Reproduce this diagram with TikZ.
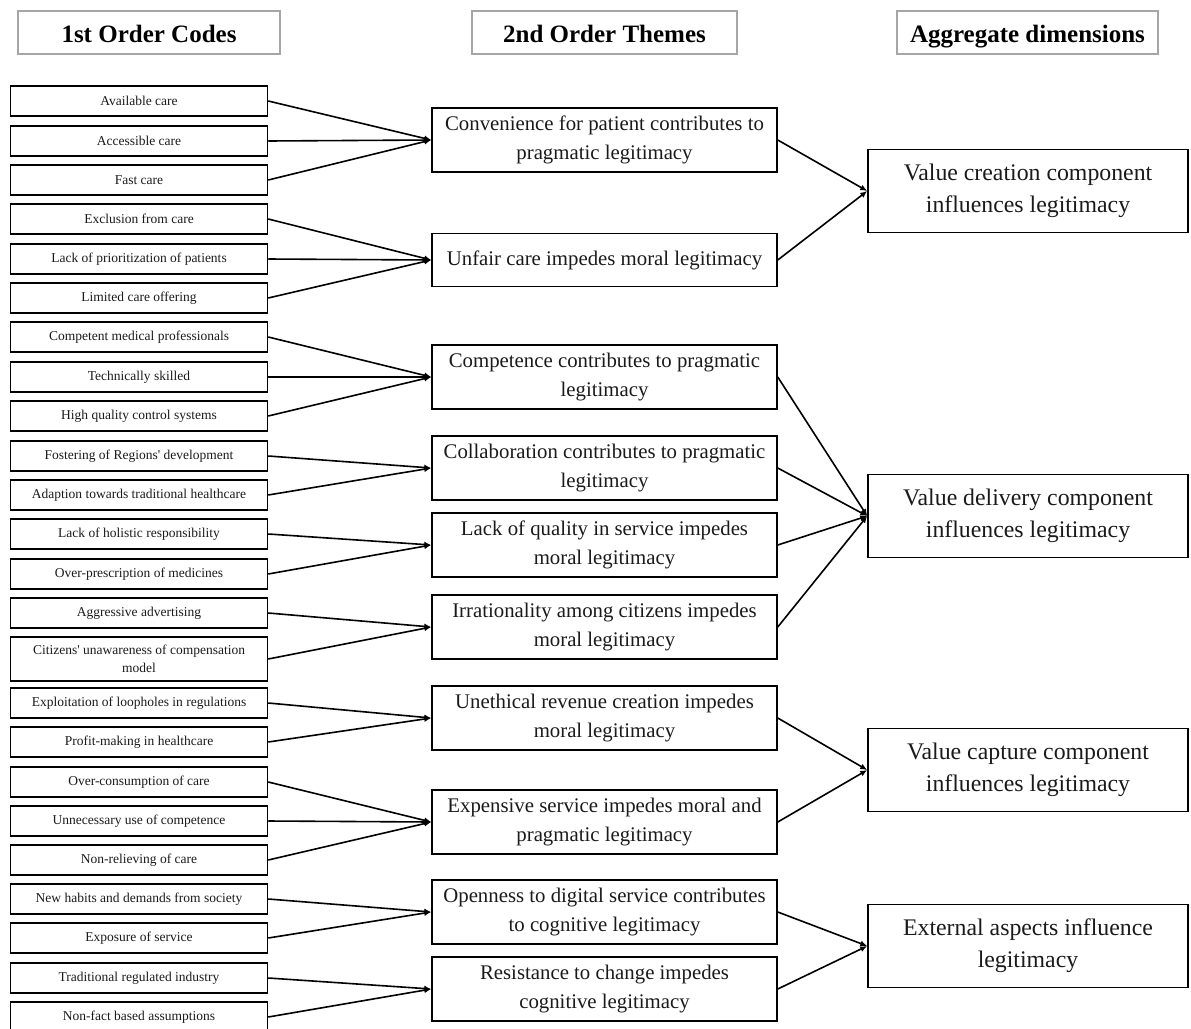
\documentclass[tikz,border=0pt]{standalone}
\usepackage{fontspec}
\setmainfont{Liberation Serif}
\usetikzlibrary{arrows.meta, positioning}
\definecolor{gristitulo}{HTML}{A6A6A6}
\definecolor{texto}{HTML}{1A1A1A}
\tikzset{
  titulo/.style={rectangle, draw=gristitulo, line width=1.2pt,
    minimum height=43pt, text height=20pt, text depth=1pt,
    font=\fontsize{25}{30}\selectfont\bfseries},
  codigo/.style={rectangle, draw, line width=1.5pt, minimum width=257pt,
    minimum height=30pt, inner sep=0pt, align=center,
    font=\fontsize{13.5}{18}\selectfont, text=texto},
  tema/.style={rectangle, draw, line width=1.5pt, minimum width=345pt,
    minimum height=64pt, inner sep=0pt, align=center,
    font=\fontsize{20.8}{29}\selectfont, text=texto},
  dimension/.style={rectangle, draw, line width=1.5pt, minimum width=320pt,
    minimum height=83pt, inner sep=0pt, align=center,
    font=\fontsize{23.8}{32}\selectfont, text=texto},
  flecha/.style={-{Latex[length=7pt,width=6pt]}, line width=1.6pt}
}

\begin{document}
\begin{tikzpicture}[x=1pt, y=-1pt]
  \useasboundingbox (0,0) rectangle (1191,1028);

  % --- Encabezados ---
  \node[titulo, minimum width=262pt] (h1) at (149,32.5) {1st Order Codes};
  \node[titulo, minimum width=265pt] (h2) at (604.5,32.5) {2nd Order Themes};
  \node[titulo, minimum width=261pt] (h3) at (1027.5,32.5) {Aggregate dimensions};

  % --- Codigos de primer orden ---
  \foreach \i/\y/\txt in {1/101/Available care, 2/141/Accessible care, 3/180/Fast care,
      4/219/Exclusion from care, 5/259/Lack of prioritization of patients,
      6/298/Limited care offering, 7/337/Competent medical professionals,
      8/377/Technically skilled, 9/416/High quality control systems,
      10/456/Fostering of Regions\textquotesingle{} development,
      11/495/Adaption towards traditional healthcare,
      12/534/Lack of holistic responsibility, 13/574/Over-prescription of medicines,
      14/613/Aggressive advertising, 16/703/Exploitation of loopholes in regulations,
      17/742/Profit-making in healthcare, 18/782/Over-consumption of care,
      19/821/Unnecessary use of competence, 20/860/Non-relieving of care,
      21/899/New habits and demands from society, 22/938/Exposure of service,
      23/978/Traditional regulated industry, 24/1017/Non-fact based assumptions} {
    \node[codigo] (c\i) at (139,\y) {\txt};
  }
  \node[codigo, minimum height=44pt] (c15) at (139,659)
    {Citizens\textquotesingle{} unawareness of compensation\\model};

  % --- Temas de segundo orden ---
  \foreach \i/\y/\txt in {1/140/Convenience for patient contributes to\\pragmatic legitimacy,
      3/377/Competence contributes to pragmatic\\legitimacy,
      4/468/Collaboration contributes to pragmatic\\legitimacy,
      5/545/Lack of quality in service impedes\\moral legitimacy,
      6/627/Irrationality among citizens impedes\\moral legitimacy,
      7/718/Unethical revenue creation impedes\\moral legitimacy,
      8/822/Expensive service impedes moral and\\pragmatic legitimacy,
      9/912/Openness to digital service contributes\\to cognitive legitimacy,
      10/989/Resistance to change impedes\\cognitive legitimacy} {
    \node[tema] (t\i) at (604.5,\y) {\txt};
  }
  \node[tema, minimum height=53pt] (t2) at (604.5,260) {Unfair care impedes moral legitimacy};

  % --- Dimensiones agregadas ---
  \foreach \i/\y/\txt in {1/191/Value creation component\\influences legitimacy,
      2/516/Value delivery component\\influences legitimacy,
      3/770/Value capture component\\influences legitimacy,
      4/946/External aspects influence\\legitimacy} {
    \node[dimension] (d\i) at (1028,\y) {\txt};
  }

  % --- Flechas ---
  \foreach \a/\b in {1/1, 2/1, 3/1, 4/2, 5/2, 6/2, 7/3, 8/3, 9/3, 10/4, 11/4,
      12/5, 13/5, 14/6, 15/6, 16/7, 17/7, 18/8, 19/8, 20/8, 21/9, 22/9, 23/10, 24/10}
    \draw[flecha] (c\a.east) -- (t\b.west);
  \foreach \a/\b in {1/1, 2/1, 3/2, 4/2, 5/2, 6/2, 7/3, 8/3, 9/4, 10/4}
    \draw[flecha] (t\a.east) -- (d\b.west);

\end{tikzpicture}
\end{document}
